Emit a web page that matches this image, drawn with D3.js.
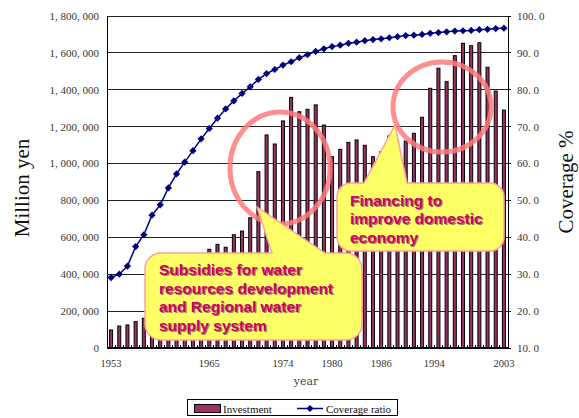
<!DOCTYPE html>
<html>
<head>
<meta charset="utf-8">
<script src="https://cdn.jsdelivr.net/npm/d3@7"></script>
<style>
  body { margin: 0; background: #fff; }
  svg { display: block; }
  .tick-label { font-family: "Liberation Serif", "DejaVu Serif", serif; font-size: 11px; fill: #333; }
  .callout-text { font-family: "Liberation Sans", Arial, sans-serif; font-weight: bold; font-size: 15.5px; }
</style>
</head>
<body>
<div id="chart"></div>
<script>
// --- data ---
// 49 categories, fiscal years 1953..2003 (only some are labelled)
const investment = [
  98000, 119000, 125000, 143000, 161000, 185000, 210000, 250000, 300000, 350000,
  410000, 470000, 535000, 562000, 546000, 614000, 634000, 706000, 956000, 1155000,
  1106000, 1231000, 1359000, 1281000, 1294000, 1318000, 1209000, 1037000, 1077000, 1115000,
  1128000, 1099000, 1037000, 1064000, 1150000, 1100000, 1122000, 1164000, 1251000, 1408000,
  1517000, 1444000, 1585000, 1652000, 1639000, 1655000, 1522000, 1393000, 1290000
];
const coverage = [
  29.1, 30.0, 32.2, 37.5, 40.7, 46.0, 48.8, 53.4, 57.2, 60.4,
  63.5, 66.7, 69.5, 72.3, 74.8, 77.0, 79.0, 80.8, 82.8, 84.4,
  85.5, 86.7, 87.6, 88.7, 89.5, 90.4, 91.1, 91.7, 92.1, 92.6,
  92.9, 93.3, 93.6, 93.8, 94.1, 94.4, 94.7, 94.8, 95.0, 95.3,
  95.5, 95.7, 95.9, 96.0, 96.1, 96.3, 96.4, 96.6, 96.7
];
const xTickLabels = ["1953", "1965", "1974", "1980", "1986", "1994", "2003"];
const xTickIndex = [0, 12, 21, 27, 33, 39.5, 48];
const leftTicks = [0, 200000, 400000, 600000, 800000, 1000000, 1200000, 1400000, 1600000, 1800000];
const rightTicks = [10, 20, 30, 40, 50, 60, 70, 80, 90, 100];

const W = 579, H = 418;
const plot = { left: 107, right: 508, top: 16, bottom: 348 };

const svg = d3.select("#chart").append("svg")
  .attr("width", W).attr("height", H);

svg.append("rect").attr("width", W).attr("height", H).attr("fill", "#fff");

// scales
const x = d3.scaleLinear()
  .domain([-0.5, investment.length - 0.5])
  .range([plot.left, plot.right]);
const y = d3.scaleLinear().domain([0, 1800000]).range([plot.bottom, plot.top]);
const y2 = d3.scaleLinear().domain([10, 100]).range([plot.bottom, plot.top]);

const fmtYen = d => d3.format(",")(d).replace(/,/g, ", ");
const fmtPct = d => d.toFixed(1).replace(".", ". ");

// gridlines
svg.append("g")
  .selectAll("line")
  .data(leftTicks.filter(d => d > 0))
  .join("line")
  .attr("x1", plot.left).attr("x2", plot.right)
  .attr("y1", d => y(d)).attr("y2", d => y(d))
  .attr("stroke", "#222").attr("stroke-width", 1)
  .attr("shape-rendering", "crispEdges");

// bars
const barW = 3;
svg.append("g")
  .selectAll("rect")
  .data(investment)
  .join("rect")
  .attr("x", (d, i) => x(i) - barW / 2)
  .attr("y", d => y(d))
  .attr("width", barW)
  .attr("height", d => y(0) - y(d))
  .attr("fill", "#993366")
  .attr("stroke", "#000")
  .attr("stroke-width", 1);

// axes lines
const axisG = svg.append("g").attr("shape-rendering", "crispEdges");
axisG.append("line")
  .attr("x1", plot.left).attr("x2", plot.left)
  .attr("y1", plot.top).attr("y2", plot.bottom)
  .attr("stroke", "#000");
axisG.append("line")
  .attr("x1", plot.right).attr("x2", plot.right)
  .attr("y1", plot.top).attr("y2", plot.bottom)
  .attr("stroke", "#000");
axisG.append("line")
  .attr("x1", plot.left).attr("x2", plot.right + 1)
  .attr("y1", plot.bottom).attr("y2", plot.bottom)
  .attr("stroke", "#000").attr("stroke-width", 2);

// category ticks (inside)
axisG.selectAll(".ct")
  .data(d3.range(investment.length + 1))
  .join("line")
  .attr("class", "ct")
  .attr("x1", i => x(i - 0.5)).attr("x2", i => x(i - 0.5))
  .attr("y1", plot.bottom).attr("y2", plot.bottom - 3)
  .attr("stroke", "#000");

// right axis ticks
axisG.selectAll(".rt")
  .data(rightTicks)
  .join("line")
  .attr("class", "rt")
  .attr("x1", plot.right).attr("x2", plot.right + 3)
  .attr("y1", d => y2(d)).attr("y2", d => y2(d))
  .attr("stroke", "#000");

// tick labels
svg.append("g")
  .selectAll("text")
  .data(leftTicks)
  .join("text")
  .attr("class", "tick-label")
  .attr("x", 99).attr("y", d => y(d))
  .attr("dy", "0.35em")
  .attr("text-anchor", "end")
  .text(fmtYen);

svg.append("g")
  .selectAll("text")
  .data(rightTicks)
  .join("text")
  .attr("class", "tick-label")
  .attr("x", 517).attr("y", d => y2(d))
  .attr("dy", "0.35em")
  .text(fmtPct);

svg.append("g")
  .selectAll("text")
  .data(xTickLabels)
  .join("text")
  .attr("class", "tick-label")
  .attr("x", (d, i) => x(xTickIndex[i]))
  .attr("y", 367)
  .attr("text-anchor", "middle")
  .style("font-size", "10.5px")
  .text(d => d);

// axis titles
svg.append("text")
  .attr("x", 306).attr("y", 385)
  .attr("text-anchor", "middle")
  .style("font-family", "'DejaVu Serif', serif")
  .style("font-size", "11px")
  .attr("fill", "#444")
  .text("year");

svg.append("text")
  .attr("transform", "translate(29,188) rotate(-90)")
  .attr("text-anchor", "middle")
  .style("font-family", "'Liberation Serif', serif")
  .style("font-size", "21px")
  .attr("fill", "#111")
  .text("Million yen");

svg.append("text")
  .attr("transform", "translate(573,182) rotate(-90)")
  .attr("text-anchor", "middle")
  .style("font-family", "'Liberation Serif', serif")
  .style("font-size", "21px")
  .attr("fill", "#111")
  .text("Coverage %");

// coverage line
const line = d3.line()
  .x((d, i) => x(i))
  .y(d => y2(d));

svg.append("path")
  .datum(coverage)
  .attr("d", line)
  .attr("fill", "none")
  .attr("stroke", "#000080")
  .attr("stroke-width", 1.5);

const diamond = d3.symbol(d3.symbolSquare, 26);
svg.append("g")
  .selectAll("path")
  .data(coverage)
  .join("path")
  .attr("d", diamond)
  .attr("transform", (d, i) => `translate(${x(i)},${y2(d)}) rotate(45)`)
  .attr("fill", "#000080");

// highlight ellipses
const rings = [
  { cx: 280, cy: 168, rx: 50, ry: 56 },
  { cx: 442, cy: 107, rx: 49, ry: 45 }
];
svg.append("g")
  .selectAll("ellipse")
  .data(rings)
  .join("ellipse")
  .attr("cx", d => d.cx).attr("cy", d => d.cy)
  .attr("rx", d => d.rx).attr("ry", d => d.ry)
  .attr("fill", "none")
  .attr("stroke", "#ff7b7b")
  .attr("stroke-opacity", 0.85)
  .attr("stroke-width", 5);

// callouts
function calloutPath(b) {
  const r = b.r;
  return [
    `M${b.x0 + r},${b.y0}`,
    `L${b.bx0},${b.y0}`, `L${b.tx},${b.ty}`, `L${b.bx1},${b.y0}`,
    `L${b.x1 - r},${b.y0}`, `A${r},${r} 0 0 1 ${b.x1},${b.y0 + r}`,
    `L${b.x1},${b.y1 - r}`, `A${r},${r} 0 0 1 ${b.x1 - r},${b.y1}`,
    `L${b.x0 + r},${b.y1}`, `A${r},${r} 0 0 1 ${b.x0},${b.y1 - r}`,
    `L${b.x0},${b.y0 + r}`, `A${r},${r} 0 0 1 ${b.x0 + r},${b.y0}`, "Z"
  ].join(" ");
}

const callouts = [
  { x0: 145, y0: 253, x1: 362, y1: 340, r: 16, bx0: 272, bx1: 325, tx: 257, ty: 207,
    tx0: 159, ty0: 275,
    lines: ["Subsidies for water", "resources development", "and Regional water", "supply system"] },
  { x0: 337, y0: 183, x1: 504, y1: 251, r: 14, bx0: 364, bx1: 407, tx: 395, ty: 125,
    tx0: 350, ty0: 205.5,
    lines: ["Financing to", "improve domestic", "economy"] }
];

const cg = svg.append("g")
  .selectAll("g")
  .data(callouts)
  .join("g");

cg.append("path")
  .attr("d", calloutPath)
  .attr("fill", "#ffff66")
  .attr("stroke", "#ff9f9f")
  .attr("stroke-width", 1.5);

cg.each(function(c) {
  const g = d3.select(this);
  [["#7a4060", 1.2, 0.7], ["#cc0066", 0, 1]].forEach(([col, off, op]) => {
    g.selectAll(null)
      .data(c.lines)
      .join("text")
      .attr("class", "callout-text")
      .attr("x", c.tx0 + off)
      .attr("y", (d, i) => c.ty0 + i * 18.6 + off)
      .attr("fill", col)
      .attr("fill-opacity", op)
      .text(d => d);
  });
});

// legend
const lg = svg.append("g");
lg.append("clipPath").attr("id", "legclip")
  .append("rect").attr("x", 187).attr("y", 399).attr("width", 210).attr("height", 17);
lg.append("rect")
  .attr("x", 187.5).attr("y", 399.5).attr("width", 210).attr("height", 16)
  .attr("fill", "#fff").attr("stroke", "#000");
const lgi = lg.append("g").attr("clip-path", "url(#legclip)");
lgi.append("rect")
  .attr("x", 194.5).attr("y", 404.5).attr("width", 26).attr("height", 8)
  .attr("fill", "#993366").attr("stroke", "#000");
lgi.append("text").attr("class", "tick-label")
  .attr("x", 223).attr("y", 412.5).style("fill", "#111").text("Investment");
lgi.append("line")
  .attr("x1", 297).attr("x2", 323).attr("y1", 408.5).attr("y2", 408.5)
  .attr("stroke", "#000080").attr("stroke-width", 1.5);
lgi.append("path")
  .attr("d", diamond)
  .attr("transform", "translate(310,408.5) rotate(45)")
  .attr("fill", "#000080");
lgi.append("text").attr("class", "tick-label")
  .attr("x", 326).attr("y", 412.5).style("fill", "#111").text("Coverage ratio");
</script>
</body>
</html>
